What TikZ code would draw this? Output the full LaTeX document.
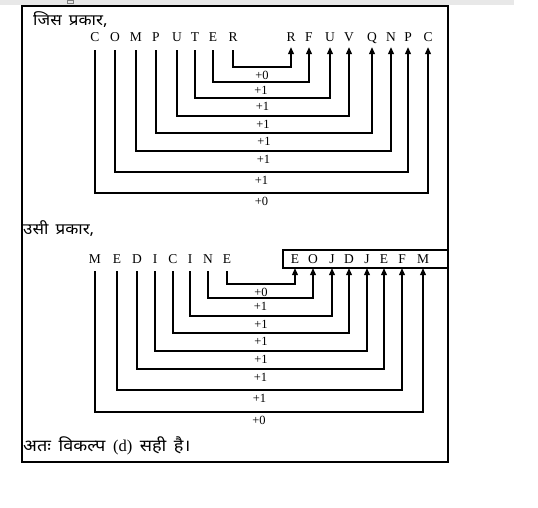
\documentclass[tikz,border=0pt]{standalone}
\usepackage{fontspec}
\setmainfont{Liberation Serif}
\newfontfamily\hindi[Script=Devanagari,FakeStretch=1.1,WordSpace=1.6]{Noto Sans}
\usetikzlibrary{arrows.meta}

\begin{document}
\begin{tikzpicture}[x=1pt,y=-1pt]
\tikzstyle{letter}=[inner sep=0pt,text height=9pt,text depth=0pt,anchor=base,font=\fontsize{13.5}{15}\selectfont]
\tikzstyle{lnk}=[line width=1.1pt,-{Triangle[width=6pt,length=7pt]},shorten <=8pt,shorten >=5pt]
\tikzstyle{gain}=[below,inner sep=3.5pt,font=\fontsize{12.5}{14}\selectfont]
\tikzstyle{hd}=[anchor=west,inner sep=0pt,font=\hindi\fontsize{15.5}{18}\selectfont]
\useasboundingbox (0,0) rectangle (538,508);
\fill[gray!18] (0,0) rectangle (514,5);
\draw[gray,line width=0.5pt] (67,0) rectangle (73,3.5);
\draw[line width=1.3pt] (22,6) rectangle (448,462);

\node[hd] (t1) at (33,20) {जिस प्रकार,};
\foreach \l/\x [count=\i] in {C/95,O/115,M/136,P/156,U/177,T/195,E/213,R/233}
  \node[letter] (a\i) at (\x,42) {\l};
\foreach \l/\x [count=\i] in {R/291,F/309,U/330,V/349,Q/372,N/391,P/408,C/428}
  \node[letter] (b\i) at (\x,42) {\l};
\foreach \i/\j/\y/\v in {8/1/67/+0,7/2/82/+1,6/3/98/+1,5/4/116/+1,4/5/133/+1,3/6/151/+1,2/7/172/+1,1/8/193/+0}
  \draw[lnk] (a\i.south) -- (a\i.south |- 0,\y) -- node[gain]{\v} (b\j.south |- 0,\y) -- (b\j.south);

\node[hd] (t2) at (23,229) {उसी प्रकार,};
\foreach \l/\x [count=\i] in {M/95,E/117,D/137,I/155,C/173,I/190,N/208,E/227}
  \node[letter] (c\i) at (\x,263) {\l};
\foreach \l/\x [count=\i] in {E/295,O/313,J/332,D/349,J/367,E/384,F/402,M/423}
  \node[letter] (d\i) at (\x,263) {\l};
\draw[line width=1.1pt] (283,250) rectangle (448,268);
\foreach \i/\j/\y/\v in {8/1/284/+0,7/2/298/+1,6/3/316/+1,5/4/333/+1,4/5/351/+1,3/6/369/+1,2/7/390/+1,1/8/412/+0}
  \draw[lnk] (c\i.south) -- (c\i.south |- 0,\y) -- node[gain]{\v} (d\j.south |- 0,\y) -- (d\j.south);

\node[hd,font=\hindi\fontsize{16.5}{19}\selectfont] (t3) at (23,446) {अतः विकल्प {\rmfamily (d)} सही है।};
\end{tikzpicture}
\end{document}
